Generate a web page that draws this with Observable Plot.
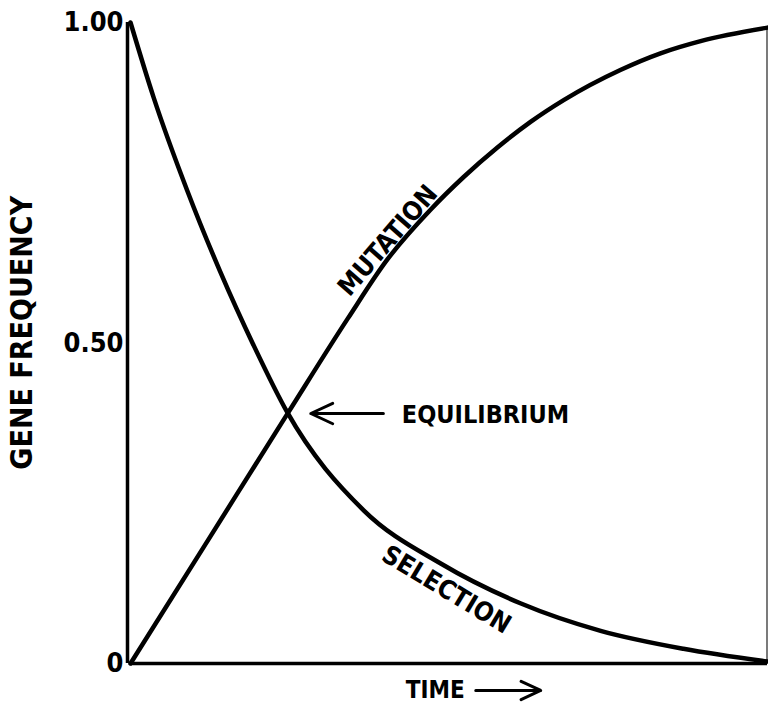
<!DOCTYPE html>
<html>
<head>
<meta charset="utf-8">
<script src="https://cdn.jsdelivr.net/npm/d3@7"></script>
<script src="https://cdn.jsdelivr.net/npm/@observablehq/plot@0.6"></script>
<style>
  html, body { margin: 0; padding: 0; background: #fff; }
  #chart svg { display: block; }
</style>
</head>
<body>
<div id="chart"></div>
<script>
// Time (arbitrary units 0-100) and gene frequency values
const selectionTime = [0, 3.6, 8.9, 14.1, 19.3, 24.6, 36.6, 48.7, 61.2, 73.8, 86.8, 100];
const selectionFreq = [1.0, 0.884, 0.738, 0.611, 0.497, 0.392, 0.239, 0.156, 0.094, 0.051, 0.023, 0.003];

const mutationTime = [0, 12.4, 24.6, 34.1, 40.3, 47.1, 52.3, 57.6, 62.8, 68.0, 76.9, 83.2, 89.5, 100];
const mutationFreq = [0, 0.196, 0.389, 0.538, 0.630, 0.708, 0.759, 0.805, 0.845, 0.879, 0.926, 0.952, 0.971, 0.992];

const yTicks = [0, 0.5, 1.0];
const yTickLabels = ["0", "0.50", "1.00"];

const selection = selectionTime.map((t, i) => ({t, f: selectionFreq[i]}));
const mutation = mutationTime.map((t, i) => ({t, f: mutationFreq[i]}));

const FONT = "'DejaVu Sans Condensed', 'Liberation Sans Narrow', 'Liberation Sans', Arial, sans-serif";

const chart = Plot.plot({
  width: 768,
  height: 703,
  marginLeft: 130,
  marginRight: 1,
  marginTop: 22,
  marginBottom: 40,
  style: {fontFamily: FONT, fontWeight: "bold", background: "#fff", color: "#000"},
  x: {domain: [0, 100], axis: null},
  y: {domain: [0, 1], axis: null},
  marks: [
    Plot.axisY({ticks: yTicks, tickFormat: d => yTickLabels[yTicks.indexOf(d)], tickSize: 0, tickPadding: 7, label: null, fontSize: 27, fontWeight: "bold", fontFamily: FONT}),
    Plot.ruleX([0], {y1: 0, y2: 1, stroke: "#000", strokeWidth: 3.5, dx: -3}),
    Plot.ruleY([0], {x1: 0, x2: 100, stroke: "#000", strokeWidth: 3.5}),
    Plot.ruleX([100], {y1: 0, y2: 0.992, stroke: "#222", strokeWidth: 1.2, dx: -0.5}),
    Plot.line(selection, {x: "t", y: "f", curve: "monotone-x", stroke: "#000", strokeWidth: 4.5}),
    Plot.line(mutation, {x: "t", y: "f", curve: "monotone-x", stroke: "#000", strokeWidth: 4.5}),
    Plot.arrow([{x1: 39.7, x2: 28.3, y: 0.39}], {x1: "x1", x2: "x2", y1: "y", y2: "y", stroke: "#000", strokeWidth: 3, headLength: 14, headAngle: 50}),
    Plot.text(["EQUILIBRIUM"], {x: 42.6, y: 0.388, text: d => d, textAnchor: "start", fontSize: 25, fontWeight: "bold", fontFamily: FONT}),
    Plot.text(["MUTATION"], {x: 40.4, y: 0.66, text: d => d, rotate: -49, fontSize: 26, fontWeight: "bold", fontFamily: FONT}),
    Plot.text(["SELECTION"], {x: 49.6, y: 0.115, text: d => d, rotate: 31, fontSize: 26, fontWeight: "bold", fontFamily: FONT}),
    Plot.text(["GENE FREQUENCY"], {x: -17, y: 0.516, text: d => d, rotate: -90, fontSize: 30, fontWeight: "bold", fontFamily: FONT}),
    Plot.text(["TIME"], {x: 43.2, y: -0.042, text: d => d, textAnchor: "start", fontSize: 24, fontWeight: "bold", fontFamily: FONT}),
    Plot.arrow([{x1: 54.2, x2: 64.4, y: -0.042}], {x1: "x1", x2: "x2", y1: "y", y2: "y", stroke: "#000", strokeWidth: 3, headLength: 14, headAngle: 50})
  ]
});
document.getElementById("chart").appendChild(chart);
</script>
</body>
</html>
